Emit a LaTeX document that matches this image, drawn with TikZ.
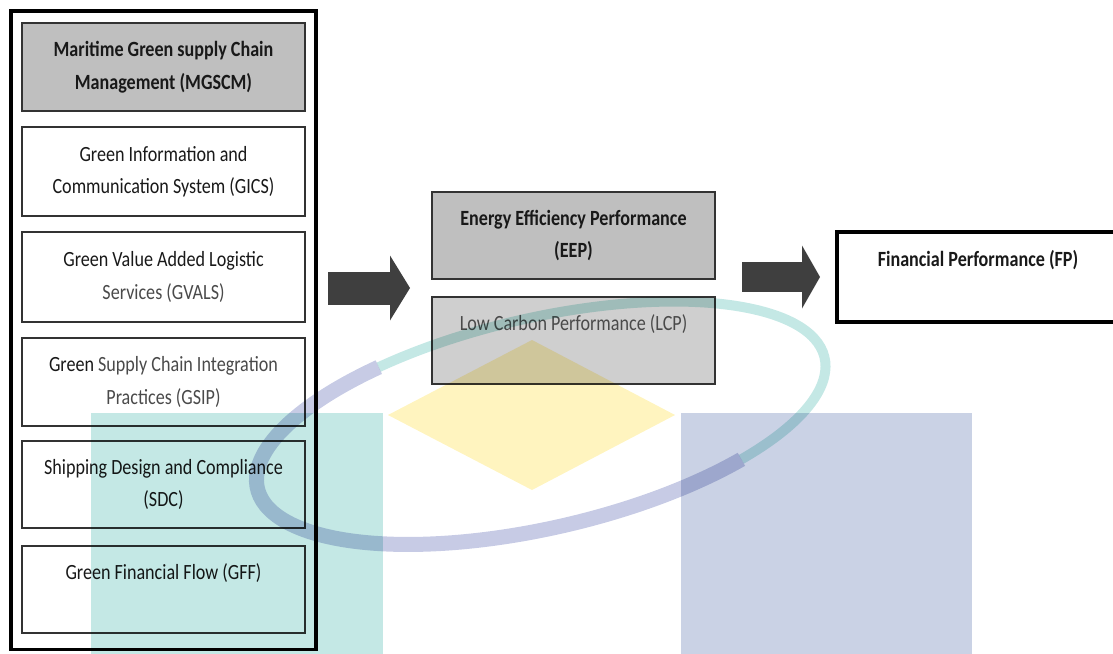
\documentclass[tikz,border=0pt]{standalone}
\usepackage{fontspec}
\setmainfont{Carlito}
\usepackage{graphicx}
\usetikzlibrary{arrows.meta}

% slightly tall lettering
\newcommand{\tl}[1]{\scalebox{1}[1.2]{#1}}

\definecolor{boxgray}{HTML}{BFBFBF}
\definecolor{palegray}{HTML}{CFCFCF}
\definecolor{arrowgray}{HTML}{3F3F3F}
\definecolor{inkgray}{HTML}{4A4A4A}
\definecolor{wmteal}{HTML}{C4E8E5}
\definecolor{wmblue}{HTML}{CAD2E5}
\definecolor{wmyellow}{HTML}{FFF4BF}
\definecolor{wmlavender}{HTML}{C7CBE5}

\begin{document}
\begin{tikzpicture}[x=1pt, y=-1pt,
  every node/.style={font=\fontsize{18.1}{32.5}\selectfont, text=black!90, outer sep=0pt},
  listbox/.style={draw=black!80, line width=1.4pt, minimum width=283pt,
                  minimum height=88pt, inner sep=0pt, align=center},
  headtext/.style={font=\fontsize{18.1}{32.5}\selectfont\bfseries},
  thickbox/.style={draw=black, line width=3.5pt, inner sep=0pt, align=center},
  blockarrow/.style={draw=arrowgray, line width=#1}
]
\useasboundingbox (0,0) rectangle (1113,653);

% left column: MGSCM dimensions
\node[thickbox, minimum width=305pt, minimum height=638.5pt] (outer) at (163.5,330.25) {};
\node[listbox, fill=boxgray, headtext] (mgscm) at (163.5,67)
  {\tl{Maritime Green supply Chain}\\\tl{Management (MGSCM)}};
\node[listbox, minimum height=89pt] (gics) at (163.5,171.5)
  {\tl{Green Information and}\\\tl{Communication System (GICS)}};
\node[listbox, minimum height=90pt] (gvals) at (163.5,277)
  {\tl{Green Value Added Logistic}\\\tl{\textcolor{inkgray}{Services (GVALS)}}};
\node[listbox] (gsip) at (163.5,382)
  {\tl{Green \textcolor{inkgray}{Supply Chain Integration}}\\\tl{\textcolor{inkgray}{Practices (GSIP)}}};
\node[listbox, minimum height=87pt] (sdc) at (163.5,484.5)
  {\tl{Shipping Design and Compliance}\\\tl{(SDC)}};
\node[listbox, minimum height=87pt] (gff) at (163.5,589.5)
  {\tl{Green Financial Flow (GFF)}\\\tl{\vphantom{(Gg}}};

% mediating performance
\node[listbox, fill=boxgray, minimum height=87pt, headtext] (eep) at (573.5,235.5)
  {\tl{Energy Efficiency Performance}\\\tl{(EEP)}};
\node[listbox, fill=palegray, minimum height=87pt, text=inkgray] (lcp) at (573.5,340.5)
  {\tl{Low Carbon Performance (LCP)}\\\tl{\vphantom{(Gg}}};

% outcome
\node[thickbox, fill=white, minimum width=282pt, minimum height=90pt, headtext] (fp) at (978,277)
  {\tl{Financial Performance (FP)}\\\tl{\vphantom{(Gg}}};

\path (eep.south west) -- (lcp.north west) coordinate[pos=0.5] (gap);

% block arrows
\draw[blockarrow=33pt, -{Triangle[length=20pt, width=65pt, line width=0pt]}]
  ([xshift=12pt]outer.east |- gap) -- ([xshift=-22pt]gap);
\draw[blockarrow=30pt, -{Triangle[length=18pt, width=63pt, line width=0pt]}]
  ([xshift=27pt]eep.east |- fp.west) -- ([xshift=-17pt]fp.west);

% watermark emblem
\begin{scope}[blend mode=multiply]
  \fill[wmteal] (91,413) rectangle (383,660);
  \fill[wmblue] (681,413) rectangle (972,660);
  \fill[wmyellow] (532,340) -- (675,415) -- (532,490) -- (388,415) -- cycle;
  \begin{scope}[rotate around={13:(541,423)}]
    \draw[wmlavender, line width=15pt]
      ([shift={(120:291pt and 105pt)}]541,423)
      arc[start angle=120, end angle=310, x radius=291pt, y radius=105pt];
    \draw[wmteal, line width=10pt]
      ([shift={(-50:291pt and 105pt)}]541,423)
      arc[start angle=-50, end angle=120, x radius=291pt, y radius=105pt];
  \end{scope}
\end{scope}
\end{tikzpicture}
\end{document}
